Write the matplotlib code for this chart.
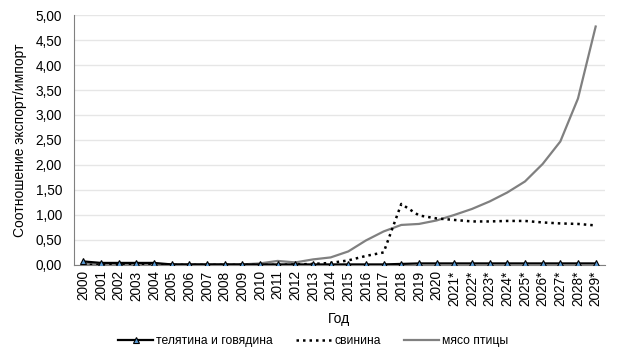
import matplotlib
matplotlib.use('Agg')
import matplotlib.pyplot as plt
import numpy as np
from matplotlib.ticker import FuncFormatter, MultipleLocator

plt.rcParams['font.family'] = ['Liberation Sans', 'DejaVu Sans']

years = ['2000', '2001', '2002', '2003', '2004', '2005', '2006', '2007', '2008', '2009',
         '2010', '2011', '2012', '2013', '2014', '2015', '2016', '2017', '2018', '2019',
         '2020', '2021*', '2022*', '2023*', '2024*', '2025*', '2026*', '2027*', '2028*', '2029*']
beef = [0.07, 0.04, 0.04, 0.04, 0.04, 0.01, 0.01, 0.01, 0.01, 0.01,
        0.01, 0.01, 0.01, 0.01, 0.01, 0.01, 0.01, 0.01, 0.02, 0.03,
        0.03, 0.03, 0.03, 0.03, 0.03, 0.03, 0.03, 0.03, 0.03, 0.03]
pork = [0.0, 0.0, 0.0, 0.0, 0.0, 0.0, 0.0, 0.0, 0.0, 0.0,
        0.0, 0.0, 0.01, 0.02, 0.04, 0.09, 0.18, 0.25, 1.22, 0.99,
        0.93, 0.9, 0.87, 0.87, 0.88, 0.88, 0.85, 0.83, 0.82, 0.79]
poultry = [0.02, 0.01, 0.01, 0.01, 0.01, 0.01, 0.01, 0.01, 0.01, 0.01,
           0.03, 0.08, 0.05, 0.11, 0.15, 0.27, 0.49, 0.67, 0.8, 0.82,
           0.89, 1.0, 1.12, 1.27, 1.45, 1.67, 2.02, 2.47, 3.33, 4.77]

x = np.arange(len(years))

fig = plt.figure(figsize=(6.2, 3.58), dpi=100)
ax = fig.add_axes([0.12, 0.26, 0.855, 0.698])

ax.plot(x, poultry, color='#808080', lw=1.6, label='мясо птицы', zorder=2)
ax.plot(x, pork, color='black', lw=1.8, linestyle=(0, (1, 1.6)), label='свинина', zorder=3)
ax.plot(x, beef, color='black', lw=1.6, marker='^', markersize=5,
        markerfacecolor='#5B9BD5', markeredgecolor='black', markeredgewidth=0.8,
        label='телятина и говядина', zorder=4)

ax.set_xlim(-0.5, len(years) - 0.5)
ax.set_ylim(0, 5)
ax.yaxis.set_major_locator(MultipleLocator(0.5))
ax.yaxis.set_major_formatter(FuncFormatter(lambda v, p: f'{v:.2f}'.replace('.', ',')))
ax.set_xticks(x)
ax.set_xticklabels(years, rotation=90)
ax.tick_params(axis='both', labelsize=9.8, length=0, colors='#000000')
ax.tick_params(axis='y', pad=9)
ax.tick_params(axis='x', pad=4)
ax.grid(axis='y', color='#e6e6e6', lw=1)
ax.set_axisbelow(True)
for s in ['top', 'right']:
    ax.spines[s].set_visible(False)
ax.spines['left'].set_color('#808080')
ax.spines['bottom'].set_color('#808080')

ax.set_xlabel('Год', fontsize=10, labelpad=4)
ax.set_ylabel('Соотношение экспорт/импорт', fontsize=10, labelpad=6)

h, l = ax.get_legend_handles_labels()
order = [2, 1, 0]
fig.legend([h[i] for i in order], [l[i] for i in order], loc='lower center',
           bbox_to_anchor=(0.505, 0.0), ncol=3, frameon=False, fontsize=8.7,
           handlelength=2.9, handletextpad=0.25, columnspacing=1.9)

fig.savefig('out.png', dpi=100)
